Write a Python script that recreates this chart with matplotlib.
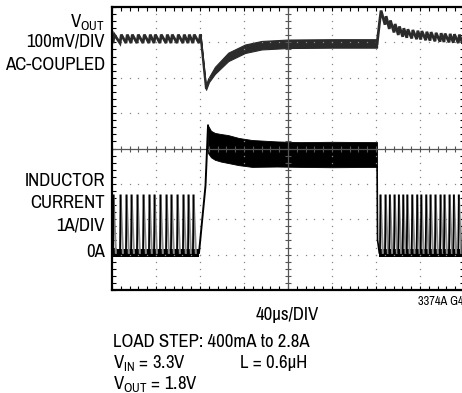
import matplotlib
matplotlib.use("Agg")
import matplotlib.pyplot as plt
import numpy as np
from matplotlib import font_manager

# ---- data read off the scope shot ----
# time in us (40us/div, 8 div), VOUT in mV (AC coupled), inductor current in A
t_span = 320
us_per_div = 40
mv_per_div = 100
a_per_div = 1

vout_pos_div = 3.1      # where the light-load VOUT level sits on screen
il_zero_div = -2.95     # 0A marker

# light-load burst pulses (before step)
pulse_t_light = [0.9, 7.3, 12.7, 17.3, 22.7, 28.2, 33.6, 38.2, 43.6, 49.1,
                 53.6, 59.1, 64.5, 69.1, 73.6]
# burst pulses after load release
pulse_t_release = [243.6, 248.2, 252.1, 256.4, 260.3, 264.3, 268.0, 272.5,
                   277.0, 280.7, 285.2, 289.1, 293.6, 298.2, 301.8, 306.4,
                   310.3, 314.8, 318.6]
vout_release_mid = [68, 52, 40, 30, 23, 18, 15, 13, 11, 10, 8, 7, 5, 4, 3,
                    2, 1, 0, -1]
vout_ripple_mv = 12
il_pulse_peak = 1.62

t_step = 79.1
t_release = 241

# VOUT during heavy load (center and band half-width)
vout_load_t = [80.5, 85.5, 88.2, 93.6, 105.7, 121, 136, 160, 200, 241]
vout_load_mv = [10, -140, -115, -89, -51, -28, -18, -14, -13, -13]
vout_load_half = [3, 4, 7, 10, 12, 12, 12, 12, 12, 12]

# inductor current during heavy load
il_rise_t = [79.1, 85.0, 87.3]
il_rise_a = [0.0, 1.9, 3.6]
il_band_t = [87.3, 90.0, 93.6, 99.0, 105.5, 115.0, 127.3, 150.0, 171.0, 200.0, 241.0]
il_band_hi = [3.60, 3.45, 3.39, 3.36, 3.33, 3.25, 3.19, 3.15, 3.13, 3.14, 3.13]
il_band_lo = [2.82, 2.70, 2.63, 2.58, 2.54, 2.48, 2.43, 2.44, 2.43, 2.42, 2.43]
il_release_t = [241.0, 241.4, 243.0]
il_release_a = [2.43, 0.37, 0.0]

# ---- fonts ----
names = {f.name for f in font_manager.fontManager.ttflist}
if "Archivo Narrow" in names:
    fam, fs = "Archivo Narrow", 13.5
else:
    fam, fs = "Liberation Sans", 11
plt.rcParams["font.family"] = fam
plt.rcParams["mathtext.fontset"] = "custom"
plt.rcParams["mathtext.rm"] = fam
plt.rcParams["mathtext.it"] = fam
plt.rcParams["mathtext.bf"] = fam

W, H = 462, 393
fig = plt.figure(figsize=(W / 100, H / 100), dpi=100)
ax = fig.add_axes([112 / W, 103 / H, 352 / W, 283 / H])
ax.set_xlim(0, t_span)
ax.set_ylim(-4, 4)

# graticule
for x in range(us_per_div, t_span, us_per_div):
    if x == t_span // 2:
        continue
    ys = np.arange(-4, 4.01, 0.2)
    ax.plot(np.full_like(ys, x), ys, ls="none", marker="s", ms=0.9, color="#888888", mec="none")
for y in [-3, -2, -1, 1, 2, 3]:
    xs = np.arange(0, t_span + 0.1, us_per_div / 5)
    ax.plot(xs, np.full_like(xs, y), ls="none", marker="s", ms=0.9, color="#888888", mec="none")
ax.axhline(0, color="#555555", lw=0.9)
ax.axvline(t_span / 2, color="#555555", lw=0.9)
xs = np.arange(0, t_span + 0.1, us_per_div / 5)
ax.plot(xs, np.zeros_like(xs), ls="none", marker="|", ms=4, mew=0.8, color="#555555")
ys = np.arange(-4, 4.01, 0.2)
ax.plot(np.full_like(ys, t_span / 2), ys, ls="none", marker="_", ms=4, mew=0.8, color="#555555")

ax.set_xticks(np.arange(0, t_span + 1, us_per_div))
ax.set_xticks(np.arange(0, t_span + 1, us_per_div / 5), minor=True)
ax.set_yticks(np.arange(-4, 5, 1))
ax.set_yticks(np.arange(-4, 4.01, 0.2), minor=True)
ax.tick_params(which="both", direction="in", top=True, right=True, length=3,
               width=0.8, labelbottom=False, labelleft=False)
for s in ax.spines.values():
    s.set_linewidth(1.6)

def v2d(mv):
    return vout_pos_div + np.asarray(mv, dtype=float) / mv_per_div

def i2d(a):
    return il_zero_div + np.asarray(a, dtype=float) / a_per_div

trace_v = "#2b2b2b"

# ---- VOUT ----
# light-load sawtooth
tv, vv = [0.0], [0.0]
for t in pulse_t_light + [t_step]:
    tv += [t, t + 1.2]
    vv += [-vout_ripple_mv, vout_ripple_mv]
tv += [vout_load_t[0]]
vv += [vout_load_mv[0]]
ax.plot(tv, v2d(vv), color=trace_v, lw=2.0, solid_joinstyle="miter")

# heavy load band
lt = np.array(vout_load_t)
lc = np.array(vout_load_mv)
lh = np.array(vout_load_half)
ax.fill_between(lt, v2d(lc - lh), v2d(lc + lh), color=trace_v, lw=0.8, ec=trace_v)
ax.plot(lt[:3], v2d(lc[:3]), color=trace_v, lw=1.6)

# release: spike and decaying sawtooth
tv, vv = [t_release], [vout_load_mv[-1]]
for t, c in zip(pulse_t_release, vout_release_mid):
    tv += [t, t + 1.0]
    vv += [c - vout_ripple_mv, c + vout_ripple_mv]
ax.plot(tv, v2d(vv), color=trace_v, lw=2.0, solid_joinstyle="miter")

# ---- inductor current ----
for t0, t1 in [(0, t_step), (il_release_t[-1], t_span)]:
    ax.fill_between([t0, t1], i2d(-0.13), i2d(0.12), color="black", lw=0)

def pulse_edges(times):
    rx, ry, fx, fy = [], [], [], []
    for t in times:
        rx += [t, t + 0.5, np.nan]
        ry += [0, il_pulse_peak, np.nan]
        fx += [t + 0.5, t + 2.6, np.nan]
        fy += [il_pulse_peak, 0, np.nan]
    return rx, ry, fx, fy

for times in (pulse_t_light, pulse_t_release):
    rx, ry, fx, fy = pulse_edges(times)
    ax.plot(fx, i2d(fy), color="#8a8a8a", lw=1.5)
    ax.plot(rx, i2d(ry), color="black", lw=1.3)

ax.plot(il_rise_t, i2d(il_rise_a), color="black", lw=1.4)
ax.fill_between(il_band_t, i2d(il_band_lo), i2d(il_band_hi), color="black", lw=0.6, ec="black")
ax.plot(il_release_t, i2d(il_release_a), color="black", lw=1.2)

# ---- text ----
def ftext(x, y, s, **kw):
    fig.text(x / W, 1 - y / H, s, **kw)

lab = dict(fontsize=fs, ha="right", va="baseline")
ftext(105, 27, r"V$_{\mathrm{OUT}}$", **lab)
ftext(105, 46.5, "100mV/DIV", **lab)
ftext(105, 70, "AC-COUPLED", **lab)
ftext(105, 186.5, "INDUCTOR", **lab)
ftext(105, 208, "CURRENT", **lab)
ftext(105, 230, "1A/DIV", **lab)
ftext(105, 257, "0A", **lab)

ftext(287, 320, "40µs/DIV", fontsize=fs, ha="center", va="baseline")
ftext(418, 305, "3374A G43", fontsize=fs * 0.66, ha="left", va="baseline")
ftext(113, 347, "LOAD STEP: 400mA to 2.8A", fontsize=fs, ha="left", va="baseline")
ftext(113, 368, r"V$_{\mathrm{IN}}$ = 3.3V", fontsize=fs, ha="left", va="baseline")
ftext(240, 368, "L = 0.6µH", fontsize=fs, ha="left", va="baseline")
ftext(113, 389, r"V$_{\mathrm{OUT}}$ = 1.8V", fontsize=fs, ha="left", va="baseline")

fig.savefig("out.png", dpi=100)
